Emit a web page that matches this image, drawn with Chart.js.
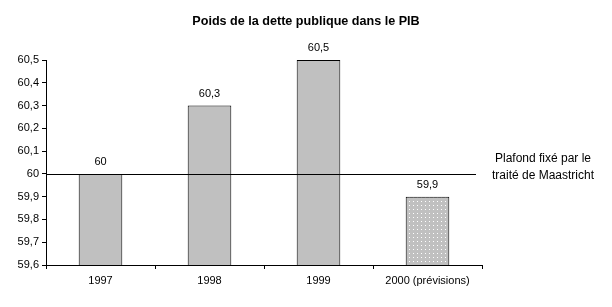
<!DOCTYPE html>
<html>
<head>
<meta charset="utf-8">
<script src="https://cdn.jsdelivr.net/npm/chart.js@4/dist/chart.umd.min.js"></script>
<style>
  html, body { margin: 0; padding: 0; background: #fff; }
  #wrap { width: 612px; height: 307px; }
</style>
</head>
<body>
<div id="wrap"><canvas id="myChart" width="612" height="307"></canvas></div>
<script>
const years = ['1997', '1998', '1999', '2000 (prévisions)']
const debtRatio = [60, 60.3, 60.5, 59.9]
const yTicks = [59.6, 59.7, 59.8, 59.9, 60, 60.1, 60.2, 60.3, 60.4, 60.5]
const plafond = 60
const plafondLabel = ['Plafond fixé par le', 'traité de Maastricht']
const titre = 'Poids de la dette publique dans le PIB'

const FONT = '"Liberation Sans", Arial, sans-serif'
const fmt = v => String(Math.round(v * 10) / 10).replace('.', ',')

// dotted fill for the forecast bar
function dotPattern () {
  const c = document.createElement('canvas')
  c.width = 4
  c.height = 4
  const g = c.getContext('2d')
  g.fillStyle = '#c0c0c0'
  g.fillRect(0, 0, 4, 4)
  g.fillStyle = '#ffffff'
  g.fillRect(1, 1, 1, 1)
  return g.createPattern(c, 'repeat')
}

const ctx = document.getElementById('myChart').getContext('2d')
const fills = years.map((y, i) => i === years.length - 1 ? dotPattern() : '#c0c0c0')

const extras = {
  id: 'extras',
  afterDatasetsDraw (chart) {
    const c = chart.ctx
    const y = chart.scales.y
    const area = chart.chartArea
    const py = Math.round(y.getPixelForValue(plafond)) + 0.5
    c.save()
    c.strokeStyle = '#000'
    c.lineWidth = 1
    c.beginPath()
    c.moveTo(area.left, py)
    c.lineTo(area.right - 6, py)
    c.stroke()

    c.fillStyle = '#000'
    c.textAlign = 'center'
    c.textBaseline = 'middle'

    // title, centred on the whole picture
    c.font = 'bold 12.6px ' + FONT
    c.fillText(titre, chart.width / 2, 22)

    c.font = '12px ' + FONT
    c.fillText(plafondLabel[0], area.right + 61, py - 16)
    c.fillText(plafondLabel[1], area.right + 61, py + 1)

    // value labels above bars
    c.font = '11px ' + FONT
    chart.getDatasetMeta(0).data.forEach((bar, i) => {
      c.fillText(fmt(debtRatio[i]), bar.x, bar.y - 12)
    })
    c.restore()
  }
}

// eslint-disable-next-line no-unused-vars
const myChart = new Chart(ctx, {
  type: 'bar',
  data: {
    labels: years,
    datasets: [{
      data: debtRatio,
      backgroundColor: fills,
      borderColor: '#000',
      borderWidth: 1,
      borderSkipped: 'bottom',
      barPercentage: 0.4,
      categoryPercentage: 1
    }]
  },
  options: {
    responsive: false,
    animation: false,
    events: [],
    layout: { padding: { top: 60, right: 130, bottom: 0, left: 0 } },
    plugins: {
      legend: { display: false },
      tooltip: { enabled: false },
      title: { display: false }
    },
    scales: {
      x: {
        grid: { drawOnChartArea: false, drawTicks: true, tickLength: 4, color: '#000', offset: true },
        border: { color: '#000', width: 1 },
        ticks: { color: '#000', font: { family: FONT, size: 11 }, padding: 5, maxRotation: 0 },
        afterFit: s => { s.height = 42 }
      },
      y: {
        min: yTicks[0],
        max: yTicks[yTicks.length - 1],
        grid: { drawOnChartArea: false, drawTicks: true, tickLength: 4, color: '#000' },
        border: { color: '#000', width: 1 },
        afterBuildTicks: s => { s.ticks = yTicks.map(v => ({ value: v })) },
        ticks: {
          color: '#000',
          font: { family: FONT, size: 11 },
          padding: 3,
          callback: v => fmt(v)
        },
        afterFit: s => { s.width = 46 }
      }
    }
  },
  plugins: [extras]
})
</script>
</body>
</html>
